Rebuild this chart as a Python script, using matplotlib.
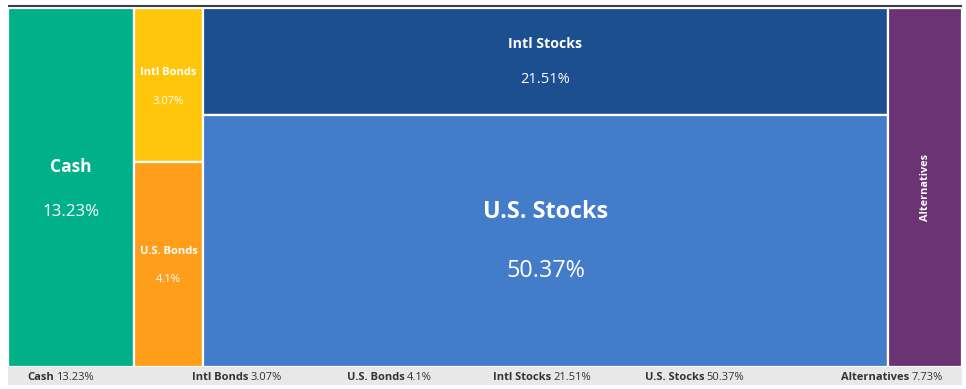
import matplotlib
matplotlib.use("Agg")
import matplotlib.pyplot as plt
from matplotlib.patches import Rectangle

plt.rcParams["font.family"] = ["Open Sans", "DejaVu Sans"]

names = ["Cash", "Intl Bonds", "U.S. Bonds", "Intl Stocks", "U.S. Stocks", "Alternatives"]
values = [13.23, 3.07, 4.1, 21.51, 50.37, 7.73]
groups = [0, 1, 1, 2, 2, 3]
colors = ["#00b089", "#ffc60b", "#ff9e1b", "#1c4f8f", "#437cc9", "#6b3374"]

# label styling per tile: (title size, value size, title offset, value offset, rotated)
styles = [
    (12.5, 12.2, -21, 24, False),
    (8, 8, -12, 17, False),
    (8, 8, -13, 15, False),
    (10.2, 10.5, -18, 18, False),
    (16.8, 16.8, -29, 30, False),
    (7.8, 0, 0, 0, True),
]
legend_x = [27, 192, 347, 493, 645, 841]

W, H = 966, 389
X0, X1, Y0, Y1 = 8, 962, 8, 367

fig = plt.figure(figsize=(W / 100, H / 100), dpi=100)
ax = fig.add_axes([0, 0, 1, 1])
ax.set_xlim(0, W)
ax.set_ylim(H, 0)
ax.axis("off")

total = sum(values)
ngroups = max(groups) + 1
x = X0
for g in range(ngroups):
    idx = [i for i in range(len(values)) if groups[i] == g]
    gsum = sum(values[i] for i in idx)
    w = (X1 - X0) * gsum / total
    y = Y0
    for i in idx:
        h = (Y1 - Y0) * values[i] / gsum
        ax.add_patch(Rectangle((x, y), w, h, facecolor=colors[i],
                               edgecolor="white", linewidth=1.6))
        ts, vs, to, vo, rot = styles[i]
        cx, cy = x + w / 2, y + h / 2
        if rot:
            ax.text(cx, cy, names[i], color="white", fontsize=ts, fontweight="bold",
                    rotation=90, ha="center", va="center")
        else:
            ax.text(cx, cy + to, names[i], color="white", fontsize=ts,
                    fontweight="bold", ha="center", va="center")
            ax.text(cx, cy + vo, f"{values[i]:g}%", color="white", fontsize=vs,
                    ha="center", va="center")
        y += h
    x += w

# top rule
ax.plot([X0, X1], [6, 6], color="#3a3f4b", linewidth=1.5, solid_capstyle="butt")

# bottom legend band
ax.add_patch(Rectangle((X0, 367), X1 - X0, 18, facecolor="#e8e8e8", edgecolor="none"))
fig.canvas.draw()
renderer = fig.canvas.get_renderer()
inv = ax.transData.inverted()
for i, name in enumerate(names):
    t = ax.text(legend_x[i], 377, name, color="#333333", fontsize=8,
                fontweight="bold", ha="left", va="center")
    bb = t.get_window_extent(renderer=renderer)
    xr = inv.transform((bb.x1, bb.y0))[0]
    ax.text(xr + 2, 377, f"{values[i]:g}%", color="#333333", fontsize=8,
            ha="left", va="center")

fig.savefig("out.png", dpi=100)
